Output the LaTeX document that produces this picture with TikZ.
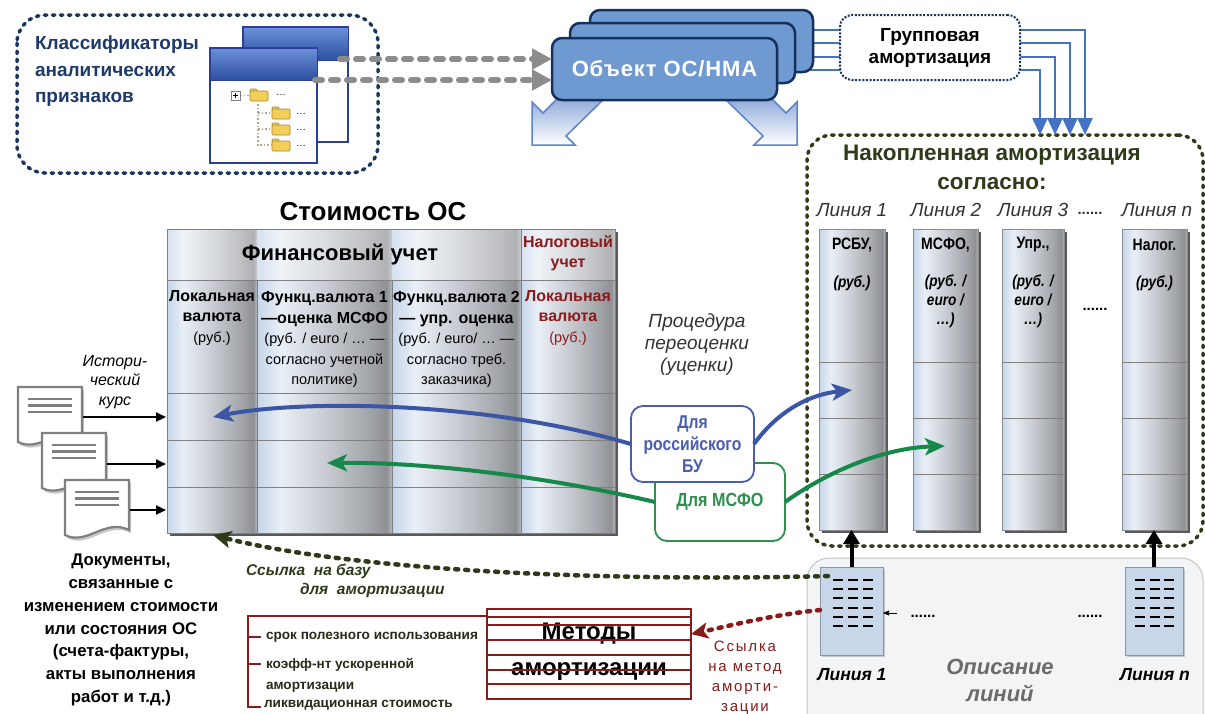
\documentclass[tikz,border=0pt]{standalone}
\usepackage{fontspec}
\setmainfont{Liberation Sans}
\newfontfamily\narrowfont[FakeStretch=0.85]{Liberation Sans}
\newfontfamily\spacedfont[LetterSpace=12]{Liberation Sans}
\newfontfamily\widefont[LetterSpace=4]{Liberation Sans}
\usetikzlibrary{arrows.meta,shadows}
\newcommand{\fsz}[2]{\fontsize{#1}{#2}\selectfont}

\definecolor{navy}{HTML}{1B365D}
\definecolor{txtblue}{HTML}{1F3A68}
\definecolor{objfill}{HTML}{6E99D1}
\definecolor{objdraw}{HTML}{15305A}
\definecolor{lineblue}{HTML}{4472C4}
\definecolor{olive}{HTML}{2E3A19}
\definecolor{darkred}{HTML}{8A1B1B}
\definecolor{arrblue}{HTML}{3C55A5}
\definecolor{arrgreen}{HTML}{15884A}
\definecolor{rublue}{HTML}{4A5DAF}
\definecolor{msgreen}{HTML}{2F8F4E}
\definecolor{dgray}{HTML}{333333}
\definecolor{grayA}{HTML}{8C8C8C}
\definecolor{winB}{HTML}{2D4FA0}
\definecolor{winT}{HTML}{6C90D9}
\definecolor{winborder}{HTML}{2B3E9A}
\definecolor{folderY}{HTML}{F3CF5A}
\definecolor{folderD}{HTML}{A8842A}
\definecolor{docgray}{HTML}{7F7F7F}
\definecolor{descfill}{HTML}{F3F4F6}
\definecolor{descdraw}{HTML}{C4C4C4}
\definecolor{iconfill}{HTML}{C7D6E8}
\definecolor{icondraw}{HTML}{8A96A6}
\definecolor{barrT}{HTML}{8FAAD9}
\definecolor{barrD}{HTML}{5F84C6}
\definecolor{treedot}{HTML}{B0A890}
\definecolor{cA}{HTML}{C5D6EA}
\definecolor{cB}{HTML}{E9EFF6}
\definecolor{cC}{HTML}{C9CDD3}
\definecolor{cD}{HTML}{A3A6AA}
\definecolor{cE}{HTML}{8E9094}
\definecolor{cF}{HTML}{B5B8BC}
\definecolor{brk}{HTML}{2B2B1B}

\pgfdeclarehorizontalshading{cyl}{100bp}{color(0bp)=(cA); color(25bp)=(cA); color(34bp)=(cB); color(50bp)=(cC); color(66bp)=(cD); color(73bp)=(cE); color(75bp)=(cF); color(100bp)=(cF)}

\newcommand{\docicon}[2]{%
  \filldraw[docsty] (#1,#2) -- ({#1+64},#2) -- ({#1+64},{#2+50}) .. controls ({#1+40},{#2+38}) and ({#1+22},{#2+66}) .. (#1,{#2+55}) -- cycle;
  \foreach \dy in {12,18.5,25} \draw[docline] ({#1+10},{#2+\dy}) -- ({#1+54},{#2+\dy});
}
\newcommand{\foldericon}[2]{%
  \filldraw[fill=folderY, draw=folderD, line width=0.6pt, rounded corners=0.8pt] (#1,{#2+1}) rectangle ({#1+7},{#2+4});
  \filldraw[fill=folderY, draw=folderD, line width=0.6pt, rounded corners=1pt] (#1,{#2+3}) rectangle ({#1+18},{#2+13});
}

\begin{document}
\begin{tikzpicture}[x=1pt,y=-1pt,
  every node/.style={inner sep=0pt,outer sep=0pt},
  gridln/.style={draw=black!50, line width=0.7pt},
  colnode/.style={shade, shading=cyl, draw=black!45, line width=0.6pt, minimum height=301pt,
     drop shadow={shadow xshift=3pt, shadow yshift=-3pt, fill=black!65, opacity=1}},
  navydash/.style={draw=navy, line width=3.5pt, line cap=round, dash pattern=on 2.5pt off 5.5pt},
  olivedash/.style={draw=olive, line width=3.5pt, line cap=round, dash pattern=on 2.5pt off 5.5pt},
  objbox/.style={draw=objdraw, line width=2.5pt, fill=objfill, rounded corners=10pt},
  blueln/.style={draw=lineblue, line width=2.5pt, -{Triangle[length=17pt,width=15pt]}},
  grayarr/.style={draw=grayA, line width=6pt, line cap=round, dash pattern=on 7pt off 9pt, -{Triangle[length=20pt,width=20pt]}},
  barrow/.style={draw=barrD, line width=1.5pt, top color=barrT, bottom color=white},
  docsty/.style={fill=white, draw=docgray, line width=2.2pt, drop shadow={shadow xshift=2pt, shadow yshift=-3pt, fill=black!35, opacity=0.6}},
  docline/.style={draw=docgray, line width=2.4pt},
  docarr/.style={draw=black, line width=2.2pt, -{Triangle[length=10pt,width=9pt]}},
  bluearr/.style={draw=arrblue, line width=4pt, -{Stealth[length=20pt,width=17pt,inset=5pt]}},
  greenarr/.style={draw=arrgreen, line width=4pt, -{Stealth[length=20pt,width=17pt,inset=5pt]}},
  olivearr/.style={draw=olive, line width=4.5pt, line cap=round, dash pattern=on 3pt off 7pt, -{Stealth[length=18pt,width=17pt,inset=4pt]}},
  redarr/.style={draw=darkred, line width=4.5pt, line cap=round, dash pattern=on 3pt off 7pt, -{Stealth[length=17pt,width=16pt,inset=4pt]}},
  upArr/.style={draw=black, line width=4pt, -{Triangle[length=14pt,width=16pt]}},
  iconbox/.style={fill=iconfill, draw=icondraw, line width=0.8pt, drop shadow={shadow xshift=2pt, shadow yshift=-2pt, fill=black!40, opacity=0.5}},
  dashln/.style={draw=black, line width=2pt},
  lbl/.style={font=\itshape\fsz{19}{20}, text=dgray},
  coltxt/.style={font=\narrowfont\bfseries\fsz{16.5}{19}, text=black, align=center},
  colsub/.style={font=\narrowfont\bfseries\itshape\fsz{16}{19}, text=black, align=center},
  tbltxt/.style={font=\fsz{14.5}{20.5}, align=center},
  tblbold/.style={font=\bfseries\fsz{16}{20.5}}
]
\useasboundingbox (0,0) rectangle (1205,713);
\clip (0,0) rectangle (1205,713);
\fill[white] (0,0) rectangle (1205,713);

% ================= top-left classifier box
\draw[navydash, rounded corners=28pt] (17,15) rectangle (378,173);
\node[font=\bfseries\fsz{19}{26.5}, text=txtblue, align=left, anchor=west] (cls) at (35,71.5) {Классификаторы\\аналитических\\признаков};

% windows
\filldraw[fill=white, draw=winborder, line width=2.2pt] (243,27) rectangle (348,142);
\shade[top color=winT, bottom color=winB, draw=winborder, line width=1pt] (243,27) rectangle (348,60);
\filldraw[fill=white, draw=winborder, line width=2.4pt] (210,48) rectangle (317,163);
\shade[top color=winT, bottom color=winB, draw=winborder, line width=1pt] (210,48) rectangle (317,80);
% tree
\draw[treedot, line width=1.6pt, dotted] (240,95.5) -- (250,95.5);
\draw[treedot, line width=1.6pt, dotted] (258,104) -- (258,145) -- (272,145);
\draw[treedot, line width=1.6pt, dotted] (258,113) -- (272,113);
\draw[treedot, line width=1.6pt, dotted] (258,129) -- (272,129);
\filldraw[fill=white, draw=gray, line width=0.6pt] (231,91) rectangle (240,100);
\draw[black, line width=0.8pt] (232.8,95.5) -- (238.2,95.5) (235.5,92.8) -- (235.5,98.2);
\foldericon{250}{88}
\foldericon{272}{106}
\foldericon{272}{122}
\foldericon{272}{138}
\node[font=\fsz{10}{10}, anchor=west] (t0) at (276,95) {…};
\node[font=\fsz{10}{10}, anchor=west] (t1) at (296,114) {…};
\node[font=\fsz{10}{10}, anchor=west] (t2) at (296,130) {…};
\node[font=\fsz{10}{10}, anchor=west] (t3) at (296,146) {…};

% ================= big block arrows (behind object)
\path[barrow] (532,145) -- (532,102) -- (543,113) -- (558,98) -- (605,98) -- (566,136) -- (575,145) -- cycle;
\path[barrow] (797,145) -- (797,102) -- (786,113) -- (771,98) -- (724,98) -- (763,136) -- (754,145) -- cycle;

% ================= blue lines to group amortisation / accumulated box
\node[olivedash, rounded corners=25pt, minimum width=396pt, minimum height=411pt] (acc) at (1005,340.5) {};
\draw[blueln] (810,30) -| (acc.north -| 1085,0);
\draw[blueln] (810,43) -| (acc.north -| 1070,0);
\draw[blueln] (810,57) -| (acc.north -| 1055,0);
\draw[blueln] (810,70) -| (acc.north -| 1040,0);

% ================= object boxes
\node[objbox, minimum width=223pt, minimum height=62pt] (objC) at (701.5,41) {};
\node[objbox, minimum width=225pt, minimum height=60pt] (objB) at (682.5,53) {};
\node[objbox, minimum width=225pt, minimum height=62pt, font=\widefont\bfseries\fsz{22}{24}, text=white] (obj) at (664.5,69) {Объект ОС/НМА};

% gray dashed arrows
\coordinate (w1) at (340,59);
\coordinate (w2) at (315,80);
\draw[grayarr] (w1) -- (obj.west |- w1);
\draw[grayarr] (w2) -- (obj.west |- w2);

% group box
\node[draw=navy, line width=2pt, dash pattern=on 2pt off 1.6pt, fill=white, rounded corners=12pt,
      minimum width=180pt, minimum height=65pt, align=center, font=\bfseries\fsz{19}{22}] (grp) at (930,47.5) {Групповая\\амортизация};

% ================= accumulated box content
\node[font=\bfseries\fsz{22.5}{29}, text=olive, align=center] (acct) at (992,167.5) {Накопленная амортизация\\согласно:};
\node[lbl] (l1) at (852,210) {Линия 1};
\node[lbl] (l2) at (946,210) {Линия 2};
\node[lbl] (l3) at (1033,210) {Линия 3};
\node[font=\bfseries\fsz{15}{15}, text=dgray] (l3d) at (1090,213) {......};
\node[lbl] (ln) at (1157,210) {Линия n};

\node[colnode, minimum width=66pt] (c1) at (852,379.5) {};
\node[colnode, minimum width=65pt] (c2) at (945.5,379.5) {};
\node[colnode, minimum width=62pt] (c3) at (1033,379.5) {};
\node[colnode, minimum width=65pt] (c4) at (1154.5,379.5) {};
\foreach \c in {c1,c2,c3,c4} {
  \foreach \yy in {362,418,474} \draw[gridln] (\c.west |- 0,\yy) -- (\c.east |- 0,\yy);
}
\node[coltxt] (c1a) at (852,245) {РСБУ,};
\node[colsub] (c1b) at (852,283) {(руб.)};
\node[coltxt] (c2a) at (945.5,245) {МСФО,};
\node[colsub] (c2b) at (945.5,301) {(руб. /\\euro /\\…)};
\node[coltxt] (c3a) at (1033,245) {Упр.,};
\node[colsub] (c3b) at (1033,301) {(руб. /\\euro /\\…)};
\node[coltxt] (c4a) at (1154.5,245) {Налог.};
\node[colsub] (c4b) at (1154.5,283) {(руб.)};
\node[font=\bfseries\fsz{15}{15}] (cdots) at (1095,309) {......};

% ================= cost table
\node[font=\bfseries\fsz{26}{28}] (ttl) at (373,212) {Стоимость ОС};
\fill[black!65] (170,232) rectangle (618,536);
\foreach \xa/\xb in {167/257,257/392,392/521,521/615} \shade[shading=cyl] (\xa,229) rectangle (\xb,533);
\fill[white, opacity=0.3] (167,229) rectangle (615,280);
\draw[gridln] (167,229) rectangle (615,533);
\foreach \yy in {280,393,440,487} \draw[gridln] (167,\yy) -- (615,\yy);
\draw[gridln] (257,280) -- (257,533) (392,280) -- (392,533) (521,229) -- (521,533);
\node[font=\bfseries\fsz{22}{24}] (fin) at (340,255) {Финансовый учет};
\node[font=\bfseries\fsz{16}{20}, text=darkred, align=center] (nal) at (568,253) {Налоговый\\учет};
\node[tbltxt] (k1) at (212,317.5) {{\bfseries\fsz{16}{20.5}Локальная}\\{\bfseries\fsz{16}{20.5}валюта}\\(руб.)};
\node[tbltxt] (k2) at (324.5,339.5) {{\bfseries\fsz{16}{20.5}Функц.валюта 1}\\{\bfseries\fsz{16}{20.5}—оценка МСФО}\\(руб. / euro / … —\\согласно учетной\\политике)};
\node[tbltxt] (k3) at (456.5,339.5) {{\bfseries\fsz{16}{20.5}Функц.валюта 2}\\{\bfseries\fsz{16}{20.5}— упр. оценка}\\(руб. / euro/ … —\\согласно треб.\\заказчика)};
\node[tbltxt, text=darkred] (k4) at (568,317.5) {{\bfseries\fsz{16}{20.5}Локальная}\\{\bfseries\fsz{16}{20.5}валюта}\\(руб.)};

\coordinate (tA) at (213,417);
\coordinate (tB) at (327,463);
\coordinate (tC) at (213,535);
\coordinate (rA) at (852,390);
\coordinate (rB) at (945,446);

% ================= documents
\docicon{18}{387}
\docicon{42}{433}
\docicon{65}{480}
\coordinate (d1) at (83,417);
\coordinate (d2) at (107,464);
\coordinate (d3) at (130,510);
\draw[docarr] (d1) -- (166,417);
\draw[docarr] (d2) -- (166,464);
\draw[docarr] (d3) -- (166,510);
\node[font=\itshape\fsz{16}{19.5}, align=center] (hist) at (115,382) {Истори-\\ческий\\курс};
\node[font=\bfseries\fsz{16.8}{22.7}, align=center] (docs) at (121,630) {Документы,\\связанные с\\изменением стоимости\\или состояния ОС\\(счета-фактуры,\\акты выполнения\\работ и т.д.)};

% ================= revaluation
\node[font=\itshape\fsz{19}{22}, text=dgray, align=center] (proc) at (697,345) {Процедура\\переоценки\\(уценки)};
\node[draw=msgreen, line width=1.8pt, fill=white, rounded corners=12pt, minimum width=130pt, minimum height=78pt,
      font=\narrowfont\bfseries\fsz{19}{22}, text=msgreen] (ms) at (720,502) {Для МСФО};
\node[draw=rublue, line width=1.8pt, fill=white, rounded corners=12pt, minimum width=123pt, minimum height=76pt,
      font=\narrowfont\bfseries\fsz{18.5}{22}, text=rublue, align=center] (ru) at (692.5,444) {Для\\российского\\БУ};
\draw[bluearr] (ru.west) .. controls (480,400) and (300,400) .. (tA);
\draw[bluearr] (ru.east) .. controls (775,415) and (805,395) .. (rA);
\draw[greenarr] (ms.west) .. controls (540,475) and (420,462) .. (tB);
\draw[greenarr] (ms.east) .. controls (830,470) and (885,448) .. (rB);

% ================= line description
\draw[fill=descfill, draw=descdraw, line width=1pt, rounded corners=22pt] (807,558) rectangle (1203,760);
\node[iconbox, minimum width=63pt, minimum height=88pt] (li1) at (851.5,611) {};
\node[iconbox, minimum width=58pt, minimum height=88pt] (lin) at (1154,611) {};
\foreach \yy in {580,589,598,607.5,617,626} {
  \foreach \xx in {833,848,862.5} \draw[dashln] (\xx,\yy) -- ++(10,0);
  \foreach \xx in {1135,1149.5,1163.5} \draw[dashln] (\xx,\yy) -- ++(10,0);
}
\draw[upArr] (li1.north) -- (li1.north |- c1.south);
\draw[upArr] (lin.north) -- (lin.north |- c4.south);
\draw[draw=black, line width=0.6pt, -{Triangle[length=6pt,width=5pt]}] (897,613) -- (li1.east |- 0,613);
\node[font=\bfseries\fsz{15}{15}] (dd1) at (923,616) {......};
\node[font=\bfseries\fsz{15}{15}] (dd2) at (1090,616) {......};
\node[font=\bfseries\itshape\fsz{17.5}{18}] (b1) at (852,675) {Линия 1};
\node[font=\bfseries\itshape\fsz{17.5}{18}] (bn) at (1155,675) {Линия n};
\node[font=\bfseries\itshape\fsz{22}{27}, text=black!58, align=center] (desc) at (1000,680) {Описание\\линий};

% ================= methods
\draw[darkred, line width=1.3pt] (487,616) -- (248,616) -- (248,707) -- (261,707);
\draw[darkred, line width=1.3pt] (248,637) -- (261,637) (248,664) -- (261,664);
\node[draw=darkred, line width=1.3pt, fill=white, minimum width=204pt, minimum height=90pt] (meth) at (589,654) {};
\node[font=\bfseries\fsz{24}{28}] (mt1) at (589,634) {Методы};
\node[font=\bfseries\fsz{24}{28}] (mt2) at (589,672) {амортизации};
\foreach \yy in {617,625,640,655,670,684} \draw[darkred, line width=1.1pt] (meth.west |- 0,\yy) -- (meth.east |- 0,\yy);
\node[font=\bfseries\fsz{13.6}{20}, text=brk, anchor=west] (m1) at (266,637) {срок полезного использования};
\node[font=\bfseries\fsz{13.6}{21}, text=brk, anchor=west, align=left] (m2) at (266,675) {коэфф-нт ускоренной\\амортизации};
\node[font=\bfseries\fsz{13.6}{20}, text=brk, anchor=west] (m3) at (264,705) {ликвидационная стоимость};

% ================= links
\coordinate (lk1) at (828,576);
\draw[olivearr] (lk1) .. controls (600,582) and (350,570) .. (tC);
\draw[redarr] (li1.west |- 0,610) .. controls (770,615) and (720,628) .. (meth.east |- 0,634);
\node[font=\bfseries\itshape\fsz{15.5}{16}, text=olive, anchor=west] (s1) at (246,571) {Ссылка\ \ на базу};
\node[font=\bfseries\itshape\fsz{15.5}{16}, text=olive, anchor=west] (s2) at (300,590) {для\ \ амортизации};
\node[font=\spacedfont\fsz{15}{20}, text=darkred, align=center] (s3) at (745,678) {Ссылка\\на метод\\аморти-\\зации};
\end{tikzpicture}
\end{document}
